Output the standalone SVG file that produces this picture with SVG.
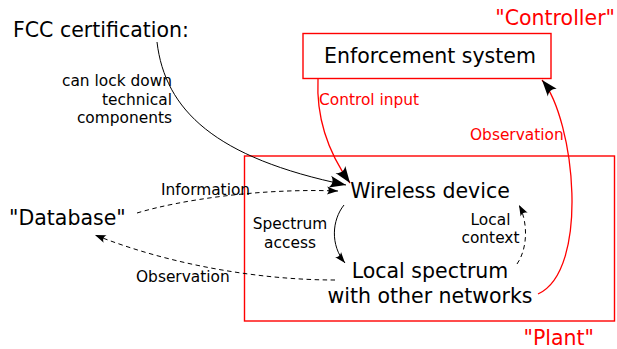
<svg xmlns="http://www.w3.org/2000/svg" width="617" height="349" viewBox="0 0 617 349">
  <style>
    text { font-family: "DejaVu Sans", "Liberation Sans", sans-serif; fill: #000; }
    .big { font-size: 20.5px; }
    .small { font-size: 15.4px; }
    .red { fill: #ff0000; }
    .frame { fill: none; stroke: #ff0000; stroke-width: 1.4; }
    .link { fill: none; stroke: #000; stroke-width: 1; }
    .redlink { fill: none; stroke: #ff0000; stroke-width: 1.3; }
    .dash { stroke-dasharray: 4.5 3.5; }
  </style>
  <defs>
    <!-- concave arrowheads, tip at the path end -->
    <marker id="headL" markerUnits="userSpaceOnUse" markerWidth="20" markerHeight="16" viewBox="-18 -8 20 16" refX="0" refY="0" orient="auto" overflow="visible">
      <path d="M0,0 L-16.5,-6 C-13,-2.4 -13,2.4 -16.5,6 Z" fill="#000"/>
    </marker>
    <marker id="headS" markerUnits="userSpaceOnUse" markerWidth="14" markerHeight="10" viewBox="-12 -5 14 10" refX="0" refY="0" orient="auto" overflow="visible">
      <path d="M0,0 L-11,-4 C-8.6,-1.6 -8.6,1.6 -11,4 Z" fill="#000"/>
    </marker>
  </defs>

  <rect width="617" height="349" fill="#fff"/>

  <g id="fcc">
    <text class="big" x="13" y="37">FCC certification:</text>
  </g>

  <g id="controller">
    <rect class="frame" x="303" y="33.5" width="248" height="45"/>
    <text class="big" x="430" y="63" text-anchor="middle">Enforcement system</text>
    <text class="big red" x="615" y="25" text-anchor="end">"Controller"</text>
  </g>

  <g id="plant">
    <rect class="frame" x="244.5" y="156" width="370" height="165"/>
    <text class="big red" x="594" y="345" text-anchor="end">"Plant"</text>
  </g>

  <g id="wireless-device">
    <text class="big" x="430" y="198" text-anchor="middle">Wireless device</text>
  </g>

  <g id="local-spectrum">
    <text class="big" x="430" y="278" text-anchor="middle">Local spectrum</text>
    <text class="big" x="430" y="303" text-anchor="middle">with other networks</text>
  </g>

  <g id="database">
    <text class="big" x="9" y="225">"Database"</text>
  </g>

  <g id="connectors">
    <!-- certification constrains the device -->
    <path class="link" d="M157,42 C165,110 215,158 346,185" marker-end="url(#headL)"/>
    <!-- control loop -->
    <path class="redlink" d="M318,79 C316,120 330,155 350,183" marker-end="url(#headL)"/>
    <path class="redlink" d="M538,294 C590,270 575,120 542,80" marker-end="url(#headL)"/>
    <!-- database exchange -->
    <path class="link dash" d="M137,213 C180,200 260,188 338,191" marker-end="url(#headS)"/>
    <path class="link dash" d="M335,280 C260,280 170,265 95,235" marker-end="url(#headS)"/>
    <!-- inside the plant -->
    <path class="link" d="M344,205 C332,220 330,245 345,263" marker-end="url(#headS)"/>
    <path class="link dash" d="M517,264 C528,248 528,222 519,205" marker-end="url(#headS)"/>

    <text class="small" x="172" y="86" text-anchor="end">can lock down</text>
    <text class="small" x="172" y="104.5" text-anchor="end">technical</text>
    <text class="small" x="172" y="123" text-anchor="end">components</text>
    <text class="small red" x="319" y="105">Control input</text>
    <text class="small red" x="470" y="140">Observation</text>
    <text class="small" x="161" y="195">Information</text>
    <text class="small" x="136" y="282">Observation</text>
    <text class="small" x="290" y="229" text-anchor="middle">Spectrum</text>
    <text class="small" x="290" y="248" text-anchor="middle">access</text>
    <text class="small" x="490.5" y="225" text-anchor="middle">Local</text>
    <text class="small" x="490.5" y="243" text-anchor="middle">context</text>
  </g>
</svg>
